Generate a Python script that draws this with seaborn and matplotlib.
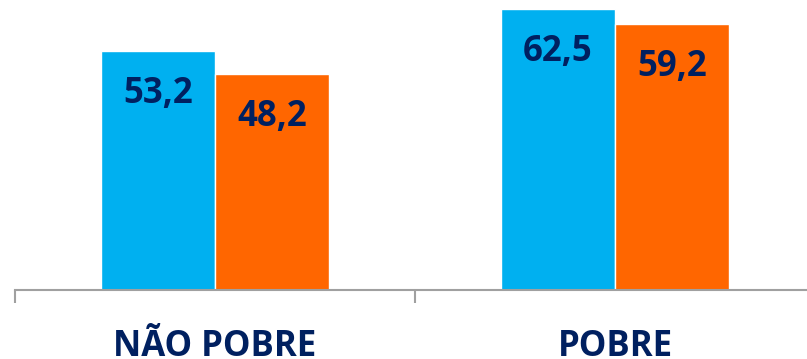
import pandas as pd
import numpy as np
import matplotlib
matplotlib.use('Agg')
import matplotlib.pyplot as plt
import seaborn as sns

categorias = ['NÃO POBRE', 'POBRE']
serie_a = [53.2, 62.5]
serie_b = [48.2, 59.2]
series = ['Série 1', 'Série 2']

df = pd.DataFrame({
    'categoria': categorias * 2,
    'valor': serie_a + serie_b,
    'serie': [series[0]] * 2 + [series[1]] * 2,
})

sns.set_style('white')
plt.rcParams['font.family'] = ['Open Sans', 'DejaVu Sans']

azul_escuro = '#002060'
fig = plt.figure(figsize=(8.07, 3.59), dpi=100)
ax = fig.add_axes([15 / 807, 69 / 359, 800 / 807, 290 / 359])

sns.barplot(data=df, x='categoria', y='valor', hue='serie',
            palette=['#00B0F0', '#FF6600'], width=0.57, gap=0,
            saturation=1, legend=False, ax=ax)

for p in ax.patches:
    h = p.get_height()
    ax.annotate(f'{h:.1f}'.replace('.', ','),
                (p.get_x() + p.get_width() / 2, h),
                xytext=(0, -31), textcoords='offset points',
                ha='center', va='center', fontsize=25, fontweight='bold',
                color=azul_escuro)

ax.set_xlim(-0.5, 1.5)
ax.set_ylim(0, 64.6)
ax.set_yticks([])
ax.set_xlabel('')
ax.set_ylabel('')
for s in ['top', 'right', 'left']:
    ax.spines[s].set_visible(False)
ax.spines['bottom'].set_color('#A0A0A0')
ax.spines['bottom'].set_linewidth(1.5)

ax.set_xticks([-0.5, 0.5, 1.5], minor=True)
ax.tick_params(axis='x', which='minor', bottom=True, length=9, width=1.5,
               color='#A0A0A0', direction='out')
ax.tick_params(axis='x', which='major', bottom=False, length=0, pad=28,
               labelsize=25, labelcolor=azul_escuro)
for lbl in ax.get_xticklabels():
    lbl.set_fontweight('bold')

fig.savefig('out.png', dpi=100)
